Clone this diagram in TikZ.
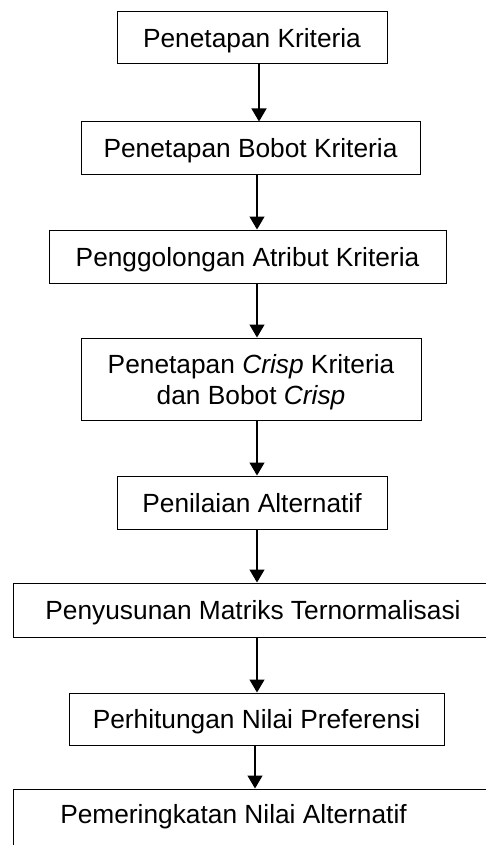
\documentclass[tikz,border=0pt]{standalone}
\usepackage{fontspec}
\setmainfont{Liberation Sans}
\usetikzlibrary{arrows.meta}
\begin{document}
\begin{tikzpicture}[x=1pt,y=-1pt,
  box/.style={draw=black,line width=1pt,inner sep=0pt,align=center,
    font=\fontsize{26.3}{31}\selectfont,text height=19pt,text depth=0pt},
  txt/.style={inner sep=0pt,font=\fontsize{26.3}{31}\selectfont,text height=19pt,text depth=0pt},
  arr/.style={line width=1.3pt,-{Triangle[width=15pt,length=13pt]}}]
\useasboundingbox (0,0) rectangle (486,845);
\clip (0,0) rectangle (486,845);
\node[box,minimum width=270pt,minimum height=52pt] (b1) at (252,38) {Penetapan Kriteria};
\node[box,minimum width=339pt,minimum height=53pt] (b2) at (250.5,148.5) {Penetapan Bobot Kriteria};
\node[box,minimum width=397pt,minimum height=53pt] (b3) at (247.5,256.5) {Penggolongan Atribut Kriteria};
\node[box,minimum width=340pt,minimum height=82pt,text height=50pt,text depth=0pt] (b4) at (251,379) {Penetapan \textit{Crisp} Kriteria\\dan Bobot \textit{Crisp}};
\node[box,minimum width=270pt,minimum height=53pt] (b5) at (252,502.5) {Penilaian Alternatif};
\node[box,minimum width=480pt,minimum height=54pt] (b6) at (253,610) {Penyusunan Matriks Ternormalisasi};
\node[box,minimum width=375pt,minimum height=52pt] (b7) at (256.5,719) {Perhitungan Nilai Preferensi};
\node[box,minimum width=487pt,minimum height=64pt] (b8) at (256.5,821) {};
\node[txt] (b8t) at (233.5,813.5) {Pemeringkatan Nilai Alternatif};
\draw[arr] ([xshift=7pt]b1.south) -- ([xshift=8.5pt]b2.north);
\draw[arr] ([xshift=6.5pt]b2.south) -- ([xshift=9.5pt]b3.north);
\draw[arr] ([xshift=9.5pt]b3.south) -- ([xshift=6pt]b4.north);
\draw[arr] ([xshift=6pt]b4.south) -- ([xshift=5pt]b5.north);
\draw[arr] ([xshift=5pt]b5.south) -- ([xshift=4pt]b6.north);
\draw[arr] ([xshift=4pt]b6.south) -- ([xshift=0.5pt]b7.north);
\draw[arr] ([xshift=-1.5pt]b7.south) -- ([xshift=-1.5pt]b8.north);
\end{tikzpicture}
\end{document}
